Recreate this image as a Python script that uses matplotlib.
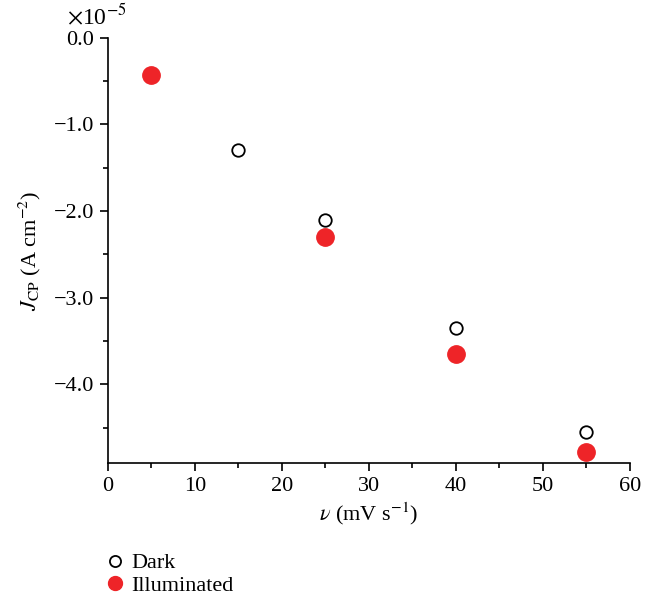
import matplotlib
matplotlib.use('Agg')
from matplotlib import pyplot as plt
from matplotlib.ticker import MultipleLocator, FuncFormatter

# Scan rate (mV/s) and J_CP values (in units of 1e-5 A/cm2)
dark_v = [5, 15, 25, 40, 55]
dark_j = [-0.42, -1.30, -2.10, -3.35, -4.55]
illum_v = [5, 25, 40, 55]
illum_j = [-0.43, -2.30, -3.65, -4.78]

plt.rcParams['font.family'] = ['Liberation Serif', 'DejaVu Serif']
plt.rcParams['mathtext.fontset'] = 'stix'

fig = plt.figure(figsize=(6.58, 6.0), dpi=100)
ax = fig.add_axes([0.164, 0.228, 0.793, 0.709])

ax.plot(dark_v, dark_j, 'o', ms=9, mfc='white', mec='black', mew=1.3,
        label='Dark', zorder=2)
ax.plot(illum_v, illum_j, 'o', ms=12.5, mfc='#ee2428', mec='#ee2428',
        label='Illuminated', zorder=3)

# Format plot.
ax.set_xlim(0, 60)
ax.set_ylim(-4.91, 0)
ax.xaxis.set_major_locator(MultipleLocator(10))
ax.xaxis.set_minor_locator(MultipleLocator(5))
ax.yaxis.set_major_locator(MultipleLocator(1.0))
ax.yaxis.set_minor_locator(MultipleLocator(0.5))
ax.yaxis.set_major_formatter(
    FuncFormatter(lambda v, p: ('%.1f' % v).replace('-', '\u2212')))
for s in ['top', 'right']:
    ax.spines[s].set_visible(False)
for s in ['left', 'bottom']:
    ax.spines[s].set_linewidth(1.2)
ax.tick_params(axis='both', which='major', direction='out', length=6,
               width=1.2, labelsize=16, pad=4)
ax.tick_params(axis='both', which='minor', direction='out', length=3.5,
               width=1.2)

ax.set_xlabel(r'$\nu$ (mV s$^{-1}$)', fontsize=16, labelpad=3)
ax.set_ylabel(r'$J_{\mathrm{CP}}$ (A cm$^{-2}$)', fontsize=16, labelpad=8)
ax.text(-0.078, 1.022, r'$\times$10$^{-5}$', transform=ax.transAxes,
        fontsize=17, ha='left', va='bottom')

leg = fig.legend(loc='upper left', bbox_to_anchor=(0.141, 0.097),
                 frameon=False, fontsize=16, handletextpad=0.25,
                 labelspacing=0.1, borderpad=0, handlelength=1.0)
leg.legend_handles[0].set_markersize(8)
leg.legend_handles[1].set_markersize(10)

fig.savefig('out.png', dpi=100)
